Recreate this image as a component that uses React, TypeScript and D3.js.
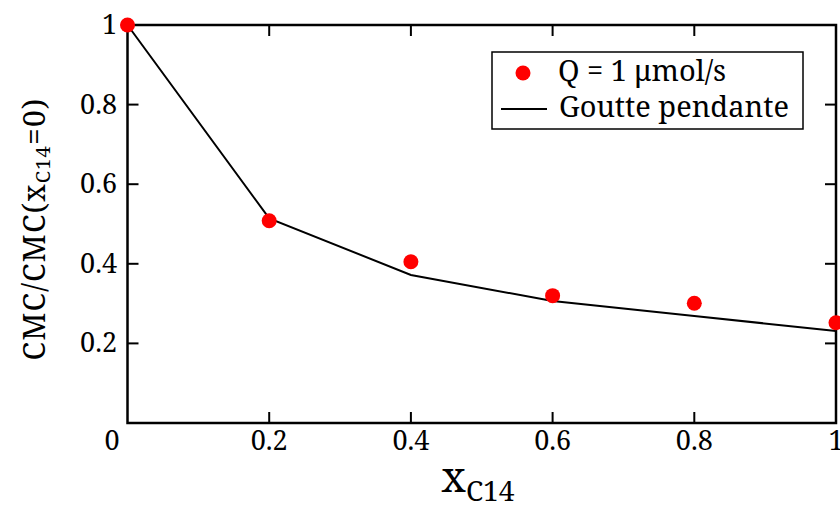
import React from "react";
import * as d3 from "d3";

const xValues = [0, 0.2, 0.4, 0.6, 0.8, 1];
const measured = [1.0, 0.508, 0.405, 0.32, 0.301, 0.252];
const pendantDrop = [1.0, 0.514, 0.372, 0.3065, 0.269, 0.231];
const xTicks = [0.2, 0.4, 0.6, 0.8, 1];
const yTicks = [0.2, 0.4, 0.6, 0.8, 1];
const legendLabels = ["Q = 1 μmol/s", "Goutte pendante"];

const W = 840, H = 505;
const M = { left: 127.5, right: 836, top: 25, bottom: 423 };
const T = { style: { fontFamily: "Noto Serif" } };

export default function App() {
  const x = d3.scaleLinear().domain([0, 1]).range([M.left, M.right]);
  const y = d3.scaleLinear().domain([0, 1]).range([M.bottom, M.top]);
  const line = d3.line<number>().x((_, i) => x(xValues[i])).y((d) => y(d));
  const tl = 11;
  return (
    <svg width={W} height={H} style={{ position: "absolute", left: 0, top: 0, background: "#fff" }}>
      <rect x={0} y={0} width={W} height={H} fill="#fff" />
      {xTicks.map((t) => (
        <g key={"xt" + t}>
          <line x1={x(t)} x2={x(t)} y1={M.bottom} y2={M.bottom - tl} stroke="#000" strokeWidth={2} />
          <line x1={x(t)} x2={x(t)} y1={M.top} y2={M.top + tl} stroke="#000" strokeWidth={2} />
          <text {...T} x={x(t)} y={450} fontSize={27} textAnchor="middle">{String(t)}</text>
        </g>
      ))}
      {yTicks.map((t) => (
        <g key={"yt" + t}>
          <line x1={M.left} x2={M.left + tl} y1={y(t)} y2={y(t)} stroke="#000" strokeWidth={2} />
          <line x1={M.right} x2={M.right - tl} y1={y(t)} y2={y(t)} stroke="#000" strokeWidth={2} />
          <text {...T} x={117} y={y(t) + 9} fontSize={27} textAnchor="end">{String(t)}</text>
        </g>
      ))}
      <text {...T} x={112} y={450} fontSize={27} textAnchor="middle">0</text>
      <rect x={M.left} y={M.top} width={M.right - M.left} height={M.bottom - M.top} fill="none" stroke="#000" strokeWidth={2.5} />
      <path d={line(pendantDrop) || ""} fill="none" stroke="#000" strokeWidth={2} />
      {measured.map((v, i) => (
        <circle key={"p" + i} cx={x(xValues[i])} cy={y(v)} r={7.5} fill="#ff0000" />
      ))}
      <rect x={492} y={52} width={311} height={77} fill="#fff" stroke="#000" strokeWidth={1.5} />
      <circle cx={523} cy={73} r={7.5} fill="#ff0000" />
      <text {...T} x={558} y={81} fontSize={29}>{legendLabels[0]}</text>
      <line x1={501} x2={547} y1={109} y2={109} stroke="#000" strokeWidth={2} />
      <text {...T} x={559} y={117} fontSize={29}>{legendLabels[1]}</text>
      <text {...T} x={478} y={492} textAnchor="middle">
        <tspan fontSize={42}>x</tspan>
        <tspan fontSize={28} dy={9}>C14</tspan>
      </text>
      <text {...T} transform="translate(45,229) rotate(-90)" textAnchor="middle" fontSize={30} letterSpacing={1.2}>
        <tspan>CMC/CMC(x</tspan>
        <tspan fontSize={20} dy={5}>C14</tspan>
        <tspan dy={-5}>=0)</tspan>
      </text>
    </svg>
  );
}
